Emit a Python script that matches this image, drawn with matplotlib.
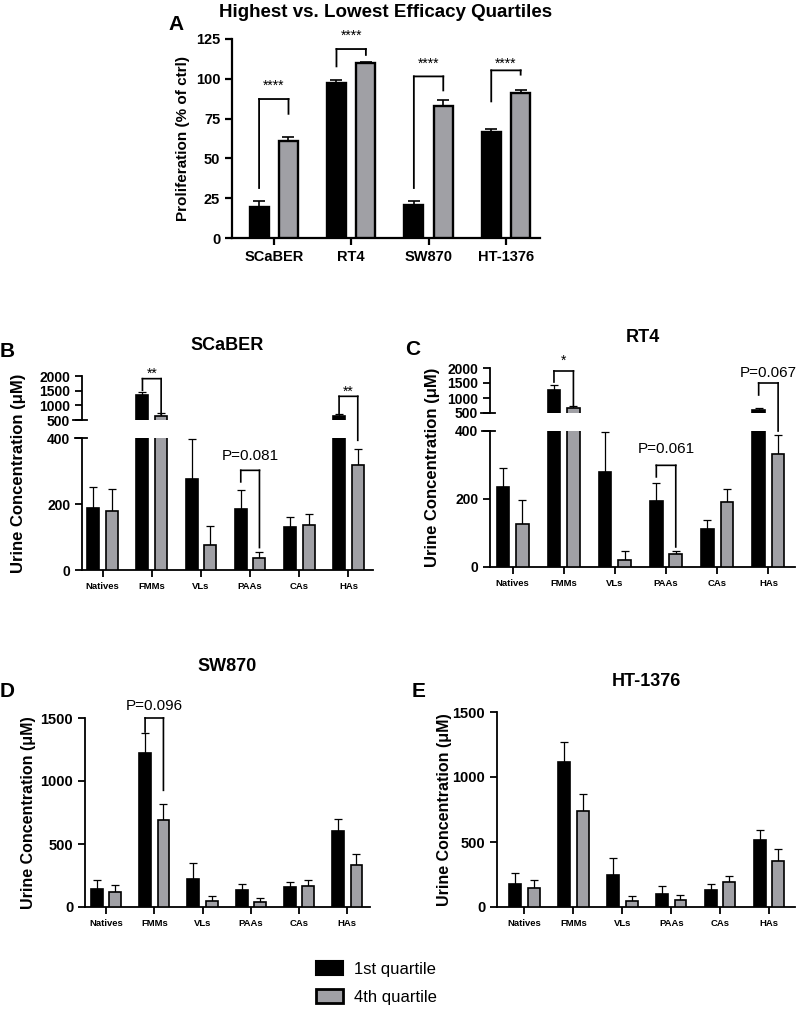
import numpy as np
import matplotlib
matplotlib.use("Agg")
import matplotlib.pyplot as plt
from matplotlib.patches import ConnectionPatch, Patch

plt.rcParams['font.family'] = ['Liberation Sans', 'DejaVu Sans']

GRAY = '#a0a0a5'
W = 0.245      # bar width
OFF = 0.19     # bar offset from group centre

# ---- panel A: proliferation, highest vs lowest efficacy quartile
cell_lines = ['SCaBER', 'RT4', 'SW870', 'HT-1376']
prolif_q1 = [19.5, 97.6, 20.5, 66.6]
prolif_q1_err = [4.0, 1.6, 3.0, 1.9]
prolif_q4 = [60.7, 109.7, 83.1, 91.1]
prolif_q4_err = [2.7, 0.6, 3.8, 2.1]

# ---- panels B-E: urine concentration by metabolite class
classes = ['Natives', 'FMMs', 'VLs', 'PAAs', 'CAs', 'HAs']

scaber_q1 = [189, 1341, 277, 186, 130, 625]
scaber_q1_err = [63, 114, 119, 55, 32, 68]
scaber_q4 = [178, 648, 77, 37, 135, 318]
scaber_q4_err = [66, 102, 57, 19, 36, 50]

rt4_q1 = [235, 1278, 279, 193, 113, 595]
rt4_q1_err = [57, 166, 119, 54, 24, 75]
rt4_q4 = [127, 656, 22, 37, 190, 331]
rt4_q4_err = [69, 88, 25, 10, 40, 56]

sw870_q1 = [145, 1225, 222, 132, 159, 606]
sw870_q1_err = [67, 159, 127, 53, 37, 92]
sw870_q4 = [119, 693, 48, 40, 167, 333]
sw870_q4_err = [53, 122, 39, 31, 50, 85]

ht1376_q1 = [179, 1115, 249, 103, 133, 518]
ht1376_q1_err = [83, 154, 128, 56, 44, 77]
ht1376_q4 = [146, 736, 44, 56, 190, 351]
ht1376_q4_err = [64, 136, 38, 34, 46, 95]

# significance brackets: (group, bracket top, left leg end, right leg end, label, label baseline)
prolif_sig = [(0, 87.3, 31.4, 78, '****', 93),
              (1, 118.7, 107.8, 115, '****', 124.6),
              (2, 101.5, 31.4, 92.7, '****', 107),
              (3, 105.3, 85.8, 102.6, '****', 106.8)]
scaber_sig = [(1, 1909, 1511, 682, '**', 1935),
              (3, 302, 267, 68, 'P=0.081', 332),
              (5, 1307, 716, 393, '**', 1330)]
rt4_sig = [(1, 1900, 1533, 756, '*', 2100),
           (3, 299, 265, 59, 'P=0.061', 335),
           (5, 1500, 1100, 400, 'P=0.067', 1700)]
sw870_sig = [(1, 1500, 1389, 926, 'P=0.096', 1566)]

YLAB = 'Urine Concentration (\u03bcM)'

fig = plt.figure(figsize=(8, 10.09), dpi=100)


def px(x0, y0, x1, y1):
    # pixel box -> figure fraction rect
    return [x0 / 800, 1 - y1 / 1009, (x1 - x0) / 800, (y1 - y0) / 1009]


def draw_bars(ax, q1, q1e, q4, q4e, lw, elw, cap):
    x = np.arange(len(q1))
    z = np.zeros(len(q1))
    ax.errorbar(x - OFF, q1, yerr=[z, q1e], fmt='none', ecolor='black',
                elinewidth=elw, capsize=cap, capthick=elw, zorder=2)
    ax.errorbar(x + OFF, q4, yerr=[z, q4e], fmt='none', ecolor='black',
                elinewidth=elw, capsize=cap, capthick=elw, zorder=2)
    ax.bar(x - OFF, q1, W, color='black', edgecolor='black', linewidth=lw, zorder=3)
    ax.bar(x + OFF, q4, W, color=GRAY, edgecolor='black', linewidth=lw, zorder=3)


def bracket(pick, g, top, yl, yr, label, ly, lw, fs):
    x1, x2 = g - OFF, g + OFF
    pts = [(x1, yl), (x1, top), (x2, top), (x2, yr)]
    for (xa, ya), (xb, yb) in zip(pts[:-1], pts[1:]):
        con = ConnectionPatch(xyA=(xa, ya), coordsA='data', axesA=pick(ya),
                              xyB=(xb, yb), coordsB='data', axesB=pick(yb),
                              color='black', lw=lw, capstyle='projecting')
        fig.add_artist(con)
    star = label.startswith('*')
    pick(ly).text(g, ly, label, ha='center', va='baseline',
                  fontsize=10 if star else fs, clip_on=False)


def style(ax, lw):
    for s in ('top', 'right'):
        ax.spines[s].set_visible(False)
    for s in ('left', 'bottom'):
        ax.spines[s].set_linewidth(lw)
    ax.tick_params(width=lw, length=5)


# ---------------- panel A
axA = fig.add_axes(px(232, 39, 540, 238))
draw_bars(axA, prolif_q1, prolif_q1_err, prolif_q4, prolif_q4_err, 1.7, 1.2, 4)
axA.set_xlim(-0.54, 3.44)
axA.set_ylim(0, 125)
axA.set_yticks([0, 25, 50, 75, 100, 125])
axA.set_xticks(range(4))
axA.set_xticklabels(cell_lines, fontsize=10.5, fontweight='bold')
for t in axA.get_yticklabels():
    t.set_fontsize(10.5)
    t.set_fontweight('bold')
style(axA, 1.6)
axA.set_ylabel('Proliferation (% of ctrl)', fontsize=11, fontweight='bold', labelpad=4)
axA.set_title('Highest vs. Lowest Efficacy Quartiles', fontsize=13.5,
              fontweight='bold', pad=16)
for s in prolif_sig:
    bracket(lambda v: axA, *s, lw=1.3, fs=11)
fig.text(168 / 800, 1 - 30 / 1009, 'A', fontsize=15, fontweight='bold', va='baseline')


# ---------------- panels B and C (broken y axis)
def broken_panel(hi_box, lo_box, q1, q1e, q4, q4e, xlim, title, pad, sig, ylab_x):
    ax_hi = fig.add_axes(px(*hi_box))
    ax_lo = fig.add_axes(px(*lo_box))
    for ax in (ax_hi, ax_lo):
        draw_bars(ax, q1, q1e, q4, q4e, 1.2, 0.9, 2.6)
        ax.set_xlim(*xlim)
        style(ax, 1.3)
    ax_hi.set_ylim(500, 2000)
    ax_hi.set_yticks([500, 1000, 1500, 2000])
    ax_hi.spines['bottom'].set_visible(False)
    ax_hi.tick_params(axis='x', bottom=False, labelbottom=False)
    ax_lo.set_ylim(0, 400)
    ax_lo.set_yticks([0, 200, 400])
    ax_lo.set_xticks(range(len(classes)))
    ax_lo.set_xticklabels(classes, fontsize=6.8, fontweight='bold')
    for ax in (ax_hi, ax_lo):
        for t in ax.get_yticklabels():
            t.set_fontsize(10)
            t.set_fontweight('bold')
    # break marks
    ax_hi.plot([-0.03, 0.018], [0, 0], transform=ax_hi.transAxes, color='black',
               lw=1.3, clip_on=False)
    ax_lo.plot([-0.025, 0.018], [1, 1], transform=ax_lo.transAxes, color='black',
               lw=1.3, clip_on=False)
    ax_hi.set_title(title, fontsize=13, fontweight='bold', pad=pad)
    pick = lambda v: ax_hi if v > 450 else ax_lo
    for s in sig:
        bracket(pick, *s, lw=1.2, fs=11)
    y0 = 1 - lo_box[3] / 1009
    y1 = 1 - hi_box[1] / 1009
    fig.text(ylab_x / 800, (y0 + y1) / 2, YLAB, rotation=90, fontsize=12,
             fontweight='bold', ha='center', va='center')


broken_panel((82, 376, 373, 420), (82, 438, 373, 570),
             scaber_q1, scaber_q1_err, scaber_q4, scaber_q4_err,
             (-0.42, 5.5), 'SCaBER', 19, scaber_sig, 19)
fig.text(0 / 800, 1 - 357 / 1009, 'B', fontsize=15, fontweight='bold', va='baseline')

broken_panel((490, 368, 795, 413), (490, 431, 795, 567),
             rt4_q1, rt4_q1_err, rt4_q4, rt4_q4_err,
             (-0.44, 5.52), 'RT4', 19, rt4_sig, 433)
fig.text(405 / 800, 1 - 355 / 1009, 'C', fontsize=15, fontweight='bold', va='baseline')


# ---------------- panels D and E
def simple_panel(box, q1, q1e, q4, q4e, xlim, title, pad, sig, ylab_x):
    ax = fig.add_axes(px(*box))
    draw_bars(ax, q1, q1e, q4, q4e, 1.2, 0.9, 2.6)
    ax.set_xlim(*xlim)
    ax.set_ylim(0, 1500)
    ax.set_yticks([0, 500, 1000, 1500])
    ax.set_xticks(range(len(classes)))
    ax.set_xticklabels(classes, fontsize=6.8, fontweight='bold')
    for t in ax.get_yticklabels():
        t.set_fontsize(10.5)
        t.set_fontweight('bold')
    style(ax, 1.3)
    ax.set_title(title, fontsize=13, fontweight='bold', pad=pad)
    for s in sig:
        bracket(lambda v: ax, *s, lw=1.2, fs=11)
    yc = 1 - (box[1] + box[3]) / 2 / 1009
    fig.text(ylab_x / 800, yc, YLAB, rotation=90, fontsize=11.5,
             fontweight='bold', ha='center', va='center')


simple_panel((85, 718, 370, 907), sw870_q1, sw870_q1_err, sw870_q4, sw870_q4_err,
             (-0.435, 5.47), 'SW870', 34, sw870_sig, 28)
fig.text(0 / 800, 1 - 697 / 1009, 'D', fontsize=15, fontweight='bold', va='baseline')

simple_panel((497, 712, 795, 907), ht1376_q1, ht1376_q1_err, ht1376_q4, ht1376_q4_err,
             (-0.56, 5.53), 'HT-1376', 19, [], 445)
fig.text(412 / 800, 1 - 697 / 1009, 'E', fontsize=15, fontweight='bold', va='baseline')

# ---------------- legend
handles = [Patch(facecolor='black', edgecolor='black', linewidth=1.5, label='1st quartile'),
           Patch(facecolor=GRAY, edgecolor='black', linewidth=2, label='4th quartile')]
fig.legend(handles=handles, loc='upper left', bbox_to_anchor=(316 / 800, 1 - 961 / 1009),
           frameon=False, fontsize=12, handlelength=1.6, handleheight=0.9,
           handletextpad=0.7, labelspacing=0.75, borderpad=0, borderaxespad=0)

fig.savefig('out.png', dpi=100)
